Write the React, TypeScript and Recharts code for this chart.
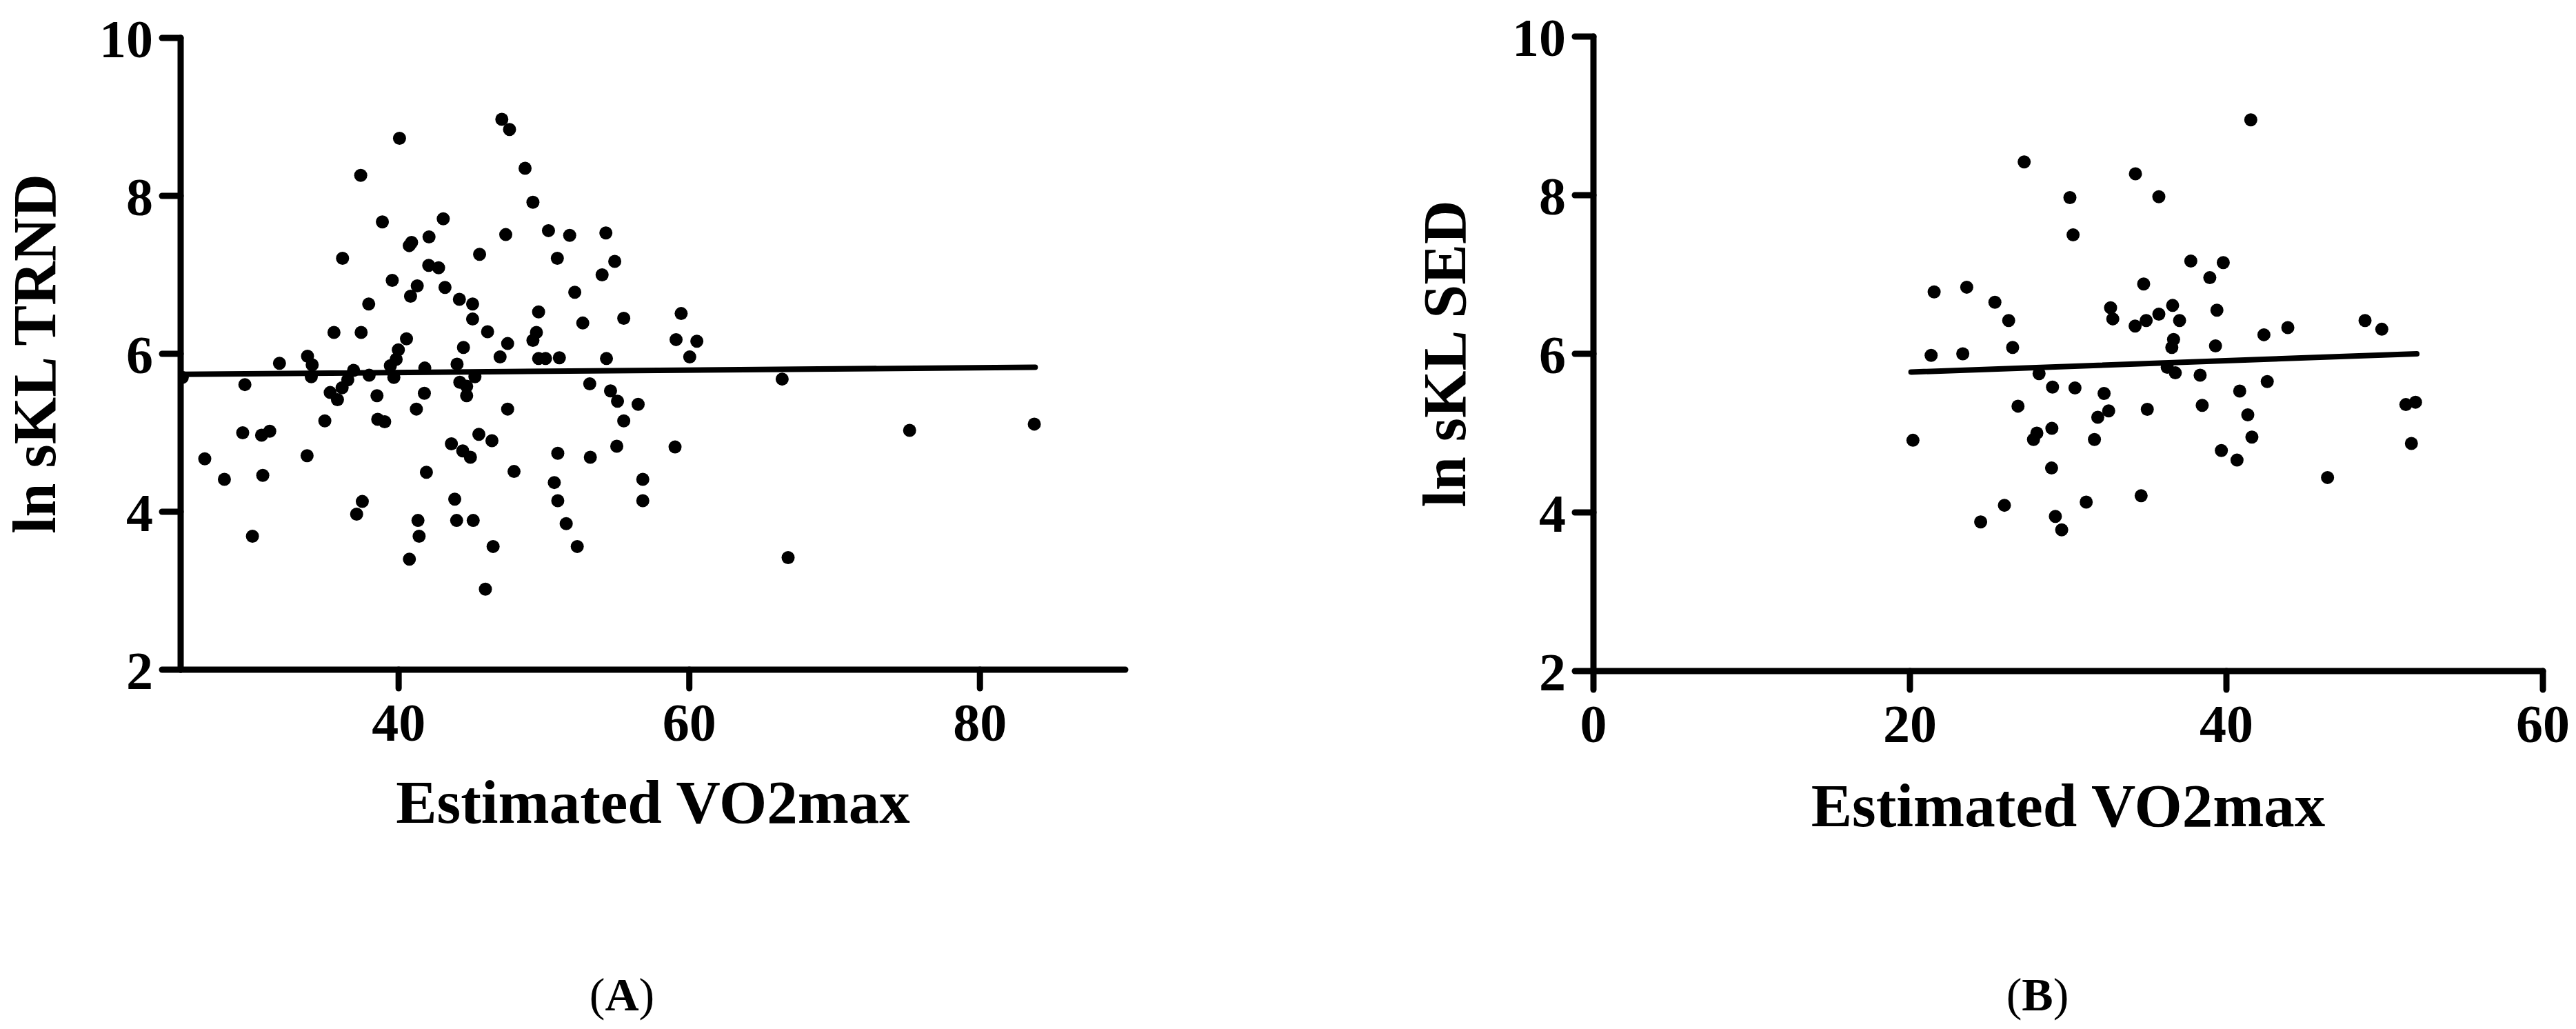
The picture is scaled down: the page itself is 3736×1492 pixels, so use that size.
import React from 'react';
import { ScatterChart, Scatter, XAxis, YAxis, ReferenceLine, Label } from 'recharts';

// ---------- Panel A: ln sKL TRND vs Estimated VO2max ----------
const vo2maxA = [
  40.06, 37.39, 38.88, 43.07, 42.09, 40.89, 40.73, 36.14, 42.07, 42.75, 39.56, 41.28, 40.82, 43.19, 44.18, 37.94, 35.55, 37.42, 40.54, 39.98, 44.46,
  47.1, 47.63, 48.7, 49.24, 47.37, 50.31, 51.77, 54.26, 45.57, 50.92, 54.87, 54.0, 52.12, 45.09, 45.09, 46.12, 47.5, 49.63, 49.48, 49.24, 52.67, 55.49, 59.44, 59.09, 60.52,
  31.8, 33.73, 34.05, 33.99, 25.11, 29.42, 36.9, 36.5, 36.11, 35.29, 35.79, 37.97, 39.43, 39.83, 39.67, 38.51, 34.92, 38.56, 39.04, 41.8, 41.77, 41.22, 44.02, 44.21, 44.68, 44.68, 43.63, 44.41, 44.94, 41.91, 43.86, 43.99, 41.33, 41.41, 40.74, 29.27, 30.57, 31.13, 26.66, 28.01, 30.65, 33.7, 37.5, 37.11, 29.94,
  46.98, 49.63, 50.11, 51.06, 54.3, 60.03, 45.25, 47.5, 53.15, 54.58, 55.06, 56.48, 55.49, 45.52, 46.42, 47.94, 50.95, 53.19, 55.01, 59.02, 50.71, 50.95, 56.8, 56.8, 45.13, 46.5, 51.53, 52.29, 45.97,
  66.39, 66.8, 75.16, 83.74,
];
const lnSklTrnd = [
  8.73, 8.26, 7.67, 7.71, 7.48, 7.41, 7.37, 7.21, 7.12, 7.09, 6.93, 6.86, 6.73, 6.84, 6.69, 6.63, 6.27, 6.27, 6.19, 6.05, 6.08,
  8.97, 8.84, 8.35, 7.92, 7.51, 7.56, 7.5, 7.53, 7.26, 7.21, 7.17, 7.0, 6.78, 6.63, 6.44, 6.28, 6.13, 6.53, 6.27, 6.17, 6.39, 6.45, 6.51, 6.18, 6.16,
  5.88, 5.97, 5.86, 5.71, 5.7, 5.61, 5.79, 5.67, 5.57, 5.51, 5.42, 5.73, 5.85, 5.93, 5.7, 5.47, 5.15, 5.17, 5.14, 5.82, 5.5, 5.3, 5.87, 5.64, 5.59, 5.47, 4.86, 4.77, 4.69, 4.5, 4.16, 3.89, 3.89, 3.69, 3.4, 5.0, 4.97, 5.02, 4.67, 4.41, 4.46, 4.71, 4.13, 3.97, 3.69,
  5.96, 5.94, 5.94, 5.95, 5.94, 5.96, 5.71, 5.3, 5.62, 5.53, 5.4, 5.36, 5.15, 4.98, 4.9, 4.51, 4.74, 4.69, 4.83, 4.82, 4.37, 4.14, 4.41, 4.14, 3.89, 3.56, 3.85, 3.56, 3.02,
  5.68, 3.42, 5.03, 5.11,
];
const fitA_x = [25.1, 83.8];
const fitA_y = [5.74, 5.83];
const xTicksA = [40, 60, 80];
const xDomainA = [25, 90];

// ---------- Panel B: ln sKL SED vs Estimated VO2max ----------
const vo2maxB = [
  27.22, 30.11, 30.31, 34.25, 21.53, 23.59, 25.37, 26.24, 26.49, 21.34, 23.34, 32.68, 32.82, 34.77, 34.23, 34.93, 28.16, 29.01, 30.43, 32.27, 32.56, 31.87, 26.83, 35.0, 20.19, 28.02, 27.81, 28.97, 31.66, 28.95, 34.61, 25.97, 24.47, 31.14, 29.19, 29.59,
  41.54, 35.73, 37.75, 39.8, 38.95, 36.6, 35.73, 37.04, 39.4, 36.66, 36.55, 39.31, 42.37, 43.88, 48.76, 49.82, 36.26, 36.77, 38.34, 40.84, 42.58, 38.47, 41.35, 41.61, 39.68, 40.67, 46.39, 51.34, 51.95, 51.69,
];
const lnSklSed = [
  8.42, 7.97, 7.5, 8.27, 6.78, 6.84, 6.65, 6.42, 6.08, 5.98, 6.0, 6.58, 6.44, 6.88, 6.35, 6.42, 5.75, 5.58, 5.57, 5.5, 5.28, 5.2, 5.34, 5.3, 4.91, 5.0, 4.92, 5.06, 4.92, 4.56, 4.21, 4.09, 3.88, 4.13, 3.95, 3.78,
  8.95, 7.98, 7.17, 7.15, 6.96, 6.61, 6.5, 6.42, 6.55, 6.18, 6.08, 6.1, 6.24, 6.33, 6.42, 6.31, 5.83, 5.76, 5.73, 5.53, 5.65, 5.35, 5.23, 4.95, 4.78, 4.66, 4.44, 5.36, 5.39, 4.87,
];
const fitB_x = [20.07, 52.03];
const fitB_y = [5.77, 6.0];
const xTicksB = [0, 20, 40, 60];
const xDomainB = [0, 60];

const yTicks = [2, 4, 6, 8, 10];
const yDomain = [2, 10];

const FONT = '"Liberation Serif", "Times New Roman", serif';

const toPoints = (xs: number[], ys: number[]) => xs.map((x, i) => ({ x, y: ys[i] }));

function Dot(props: any) {
  const { cx, cy } = props;
  if (cx == null || cy == null) return null;
  return <circle cx={cx} cy={cy} r={9.5} fill="#000" />;
}

const tickStyle = { fill: '#000', fontSize: 78, fontWeight: 700, fontFamily: FONT };
const axisStroke = { stroke: '#000', strokeWidth: 9, strokeLinecap: 'round' as const };

type PanelProps = {
  left: number;
  width: number;
  height: number;
  top: number;
  yAxisWidth: number;
  rightMargin: number;
  xAxisHeight: number;
  xs: number[];
  ys: number[];
  fitX: number[];
  fitY: number[];
  xTicks: number[];
  xDomain: number[];
  yTitle: string;
  yTitleOffset: number;
  xTitleOffset: number;
};

function Panel(p: PanelProps) {
  const data = toPoints(p.xs, p.ys);
  return (
    <div style={{ position: 'absolute', left: p.left, top: 0 }}>
      <ScatterChart
        width={p.width}
        height={p.height}
        margin={{ top: p.top, right: p.rightMargin, bottom: 0, left: 0 }}
      >
        <XAxis
          type="number"
          dataKey="x"
          domain={p.xDomain}
          ticks={p.xTicks}
          allowDataOverflow
          height={p.xAxisHeight}
          axisLine={axisStroke}
          tickLine={axisStroke}
          tickSize={27}
          tickMargin={21}
          tick={tickStyle}
          interval={0}
        >
          <Label
            content={(lp: any) => {
              const vb = lp.viewBox || {};
              return (
                <text
                  x={vb.x + vb.width / 2}
                  y={vb.y + p.xTitleOffset}
                  textAnchor="middle"
                  fontFamily={FONT}
                  fontWeight={700}
                  fontSize={89}
                  fill="#000"
                >
                  Estimated VO2max
                </text>
              );
            }}
          />
        </XAxis>
        <YAxis
          type="number"
          dataKey="y"
          domain={yDomain}
          ticks={yTicks}
          allowDataOverflow
          width={p.yAxisWidth}
          axisLine={axisStroke}
          tickLine={axisStroke}
          tickSize={27}
          tickMargin={13}
          tick={tickStyle}
          interval={0}
        >
          <Label
            content={(lp: any) => {
              const vb = lp.viewBox || {};
              const cx = vb.x + p.yTitleOffset;
              const cy = vb.y + vb.height / 2;
              return (
                <text
                  x={cx}
                  y={cy}
                  transform={`rotate(-90, ${cx}, ${cy})`}
                  textAnchor="middle"
                  fontFamily={FONT}
                  fontWeight={700}
                  fontSize={88}
                  fill="#000"
                >
                  {p.yTitle}
                </text>
              );
            }}
          />
        </YAxis>
        <Scatter data={data} shape={<Dot />} isAnimationActive={false} />
        <ReferenceLine
          segment={[
            { x: p.fitX[0], y: p.fitY[0] },
            { x: p.fitX[1], y: p.fitY[1] },
          ]}
          stroke="#000"
          strokeWidth={8}
          strokeLinecap="round"
          ifOverflow="visible"
        />
      </ScatterChart>
    </div>
  );
}

export default function App() {
  return (
    <div
      style={{
        position: 'absolute',
        left: 0,
        top: 0,
        width: 3736,
        height: 1492,
        background: '#fff',
        overflow: 'hidden',
      }}
    >
      <Panel
        left={0}
        width={1868}
        height={1300}
        top={55}
        yAxisWidth={262}
        rightMargin={236}
        xAxisHeight={329}
        xs={vo2maxA}
        ys={lnSklTrnd}
        fitX={fitA_x}
        fitY={fitA_y}
        xTicks={xTicksA}
        xDomain={xDomainA}
        yTitle="ln sKL TRND"
        yTitleOffset={80}
        xTitleOffset={222}
      />
      <Panel
        left={1868}
        width={1868}
        height={1300}
        top={53}
        yAxisWidth={443}
        rightMargin={48}
        xAxisHeight={327}
        xs={vo2maxB}
        ys={lnSklSed}
        fitX={fitB_x}
        fitY={fitB_y}
        xTicks={xTicksB}
        xDomain={xDomainB}
        yTitle="ln sKL SED"
        yTitleOffset={257}
        xTitleOffset={225}
      />
      <svg
        width={3736}
        height={1492}
        style={{ position: 'absolute', left: 0, top: 0, pointerEvents: 'none' }}
      >
        <text x={902} y={1465} textAnchor="middle" fontFamily={FONT} fontSize={68} fill="#000">
          (<tspan fontWeight={700}>A</tspan>)
        </text>
        <text x={2955} y={1465} textAnchor="middle" fontFamily={FONT} fontSize={68} fill="#000">
          (<tspan fontWeight={700}>B</tspan>)
        </text>
      </svg>
    </div>
  );
}
